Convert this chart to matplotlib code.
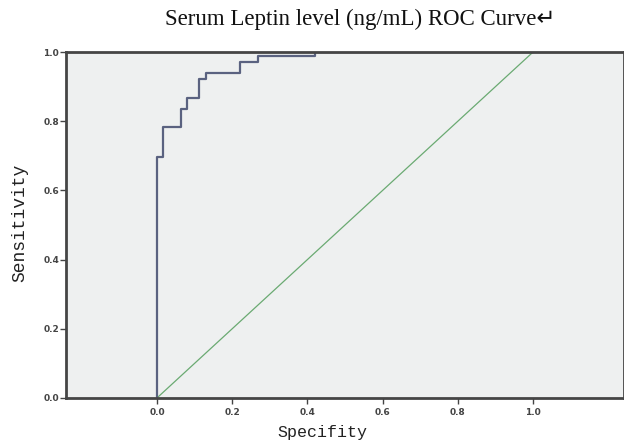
import matplotlib
matplotlib.use("Agg")
import matplotlib.pyplot as plt

# ROC curve vertices (1 - specificity, sensitivity)
fpr = [0.0, 0.0, 0.016, 0.064, 0.080, 0.112, 0.130, 0.221, 0.269, 0.420, 1.0]
tpr = [0.0, 0.697, 0.783, 0.835, 0.867, 0.922, 0.939, 0.971, 0.988, 1.000, 1.0]
ref_line = [0.0, 1.0]
ticks = [0.0, 0.2, 0.4, 0.6, 0.8, 1.0]
tick_labels = ["0.0", "0.2", "0.4", "0.6", "0.8", "1.0"]

fig = plt.figure(figsize=(6.24, 4.45), dpi=100)
ax = fig.add_axes([0.106, 0.106, 0.894, 0.777])
ax.set_facecolor("#eef0f0")

ax.plot(ref_line, ref_line, color="#6aaa72", linewidth=0.9)
ax.step(fpr, tpr, where="post", color="#5a6280", linewidth=1.6)

ax.set_xlim(-0.242, 1.242)
ax.set_ylim(0.0, 1.0)
ax.set_xticks(ticks)
ax.set_xticklabels(tick_labels)
ax.set_yticks(ticks)
ax.set_yticklabels(tick_labels)
ax.tick_params(direction="out", length=4, width=1, color="#444444",
               labelsize=6.5, labelcolor="#444444")
ax.tick_params(axis="x", pad=3)
ax.tick_params(axis="y", pad=1)
for lab in ax.get_xticklabels() + ax.get_yticklabels():
    lab.set_fontweight("bold")

for sp in ax.spines.values():
    sp.set_color("#454545")
    sp.set_linewidth(2)

fig.text(0.577, 0.956, "Serum Leptin level (ng/mL) ROC Curve\u21b5",
         family=["Liberation Serif", "DejaVu Sans"], fontsize=16.5,
         ha="center", va="center", color="#111111")
fig.text(0.517, 0.028, "Specifity", family="Liberation Mono", fontsize=12,
         ha="center", va="center", color="#222222")
fig.text(0.032, 0.5, "Sensitivity", family="Liberation Mono", fontsize=13,
         ha="center", va="center", rotation=90, color="#222222")

fig.savefig("out.png", dpi=100)
